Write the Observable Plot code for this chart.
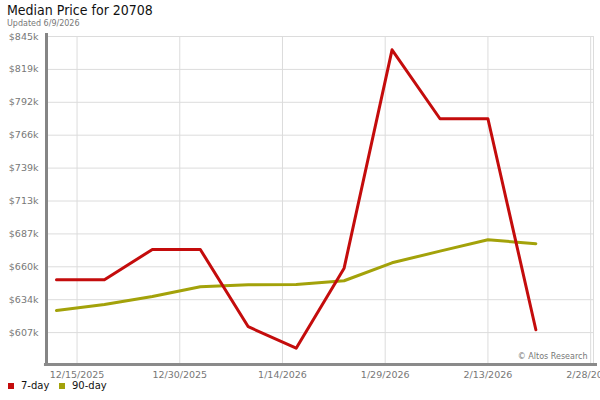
<!DOCTYPE html>
<html>
<head>
<meta charset="utf-8">
<script src="https://cdn.jsdelivr.net/npm/d3@7"></script>
<script src="https://cdn.jsdelivr.net/npm/@observablehq/plot@0.6"></script>
<style>
  body { margin: 0; background: #fff; font-family: "DejaVu Sans", sans-serif; width: 600px; overflow: hidden; }
  #head { position: relative; height: 30px; }
  #title { position: absolute; left: 7px; top: 2px; font-family: "DejaVu Sans Condensed", "DejaVu Sans"; font-stretch: condensed; font-size: 14px; color: #111; white-space: nowrap; }
  #sub { position: absolute; left: 7px; top: 19px; font-size: 8px; color: #777; white-space: nowrap; }
  #legend { position: relative; height: 20px; font-size: 10px; color: #111; }
  .sw { position: absolute; top: 3px; width: 6px; height: 6px; }
  .lt { position: absolute; top: 0px; white-space: nowrap; }
  svg { overflow: visible; }
</style>
</head>
<body>
<div id="head">
  <div id="title">Median Price for 20708</div>
  <div id="sub">Updated 6/9/2026</div>
</div>
<div id="chart"></div>
<div id="legend"></div>
<script>
const weekDates = ["2025-12-12","2025-12-19","2025-12-26","2026-01-02","2026-01-09","2026-01-16","2026-01-23","2026-01-30","2026-02-06","2026-02-13","2026-02-20"];
const sevenDay = [649800, 649800, 674100, 674100, 612100, 594900, 659100, 834300, 779000, 779000, 609700];
const ninetyDay = [625100, 630000, 636400, 644200, 645800, 646000, 649000, 663400, 672800, 681900, 678700];
const seriesNames = ["7-day", "90-day"];
const seriesColors = ["#c40c0c", "#a3a20a"];
const xTickDates = ["2025-12-15","2025-12-30","2026-01-14","2026-01-29","2026-02-13","2026-02-28"];
const xTickLabels = ["12/15/2025","12/30/2025","1/14/2026","1/29/2026","2/13/2026","2/28/2026"];
const yTicks = [607400, 633800, 660200, 686600, 713000, 739400, 765800, 792200, 818600, 845000];
const yTickLabels = ["$607k","$634k","$660k","$687k","$713k","$739k","$766k","$792k","$819k","$845k"];
const yMin = 581000, yMax = 845000;
const xStart = new Date("2025-12-10T13:00:00Z"), xEnd = new Date("2026-02-28T10:00:00Z");
const xAxisEnd = new Date("2026-02-29T00:00:00Z");

const parse = s => new Date(s + "T00:00:00Z");
const rows = [];
weekDates.forEach((d, i) => {
  rows.push({date: parse(d), value: sevenDay[i], series: seriesNames[0]});
});
weekDates.forEach((d, i) => {
  rows.push({date: parse(d), value: ninetyDay[i], series: seriesNames[1]});
});
const xTicks = xTickDates.map(parse);
const xLab = new Map(xTicks.map((d, i) => [+d, xTickLabels[i]]));
const yLab = new Map(yTicks.map((v, i) => [v, yTickLabels[i]]));

const chart = Plot.plot({
  width: 600,
  height: 350,
  marginLeft: 46,
  marginRight: 7,
  marginTop: 6,
  marginBottom: 15,
  style: { fontFamily: "DejaVu Sans", fontSize: "9.5px", color: "#777", background: "white", overflow: "visible" },
  x: { type: "utc", domain: [xStart, xEnd] },
  y: { domain: [yMin, yMax] },
  color: { domain: seriesNames, range: seriesColors },
  marks: [
    Plot.gridY(yTicks, { stroke: "#dcdcdc", strokeOpacity: 1 }),
    Plot.gridX(xTicks, { stroke: "#dcdcdc", strokeOpacity: 1 }),
    Plot.ruleX([xEnd], { stroke: "#dcdcdc" }),
    Plot.axisY(yTicks, { tickSize: 0, tickPadding: 8, tickFormat: v => yLab.get(v), fill: "#777", label: null }),
    Plot.axisX(xTicks, { tickSize: 0, tickPadding: 6, tickFormat: d => xLab.get(+d), fill: "#777", label: null }),
    Plot.text(["© Altos Research"], { frameAnchor: "bottom-right", dx: -6, dy: -7, fill: "#777", stroke: "white", strokeWidth: 5, fontSize: 8 }),
    Plot.line(rows, { filter: d => d.series === seriesNames[1], x: "date", y: "value", stroke: "series", strokeWidth: 3 }),
    Plot.line(rows, { filter: d => d.series === seriesNames[0], x: "date", y: "value", stroke: "series", strokeWidth: 3 }),
    Plot.ruleX([xStart], { y1: () => yMin, y2: () => yMax + 2500, stroke: "#858585", strokeWidth: 3 }),
    Plot.ruleY([yMin], { x1: () => new Date(+xStart - 0.3 * 864e5), x2: () => xAxisEnd, stroke: "#8a8a8a", strokeWidth: 3, dy: -1 })
  ]
});
document.getElementById("chart").appendChild(chart);

const leg = document.getElementById("legend");
const legX = [[8, 21], [59, 72]];
seriesNames.forEach((name, i) => {
  const sw = document.createElement("div");
  sw.className = "sw";
  sw.style.left = legX[i][0] + "px";
  sw.style.background = seriesColors[i];
  leg.appendChild(sw);
  const t = document.createElement("div");
  t.className = "lt";
  t.style.left = legX[i][1] + "px";
  t.textContent = name;
  leg.appendChild(t);
});
</script>
</body>
</html>
